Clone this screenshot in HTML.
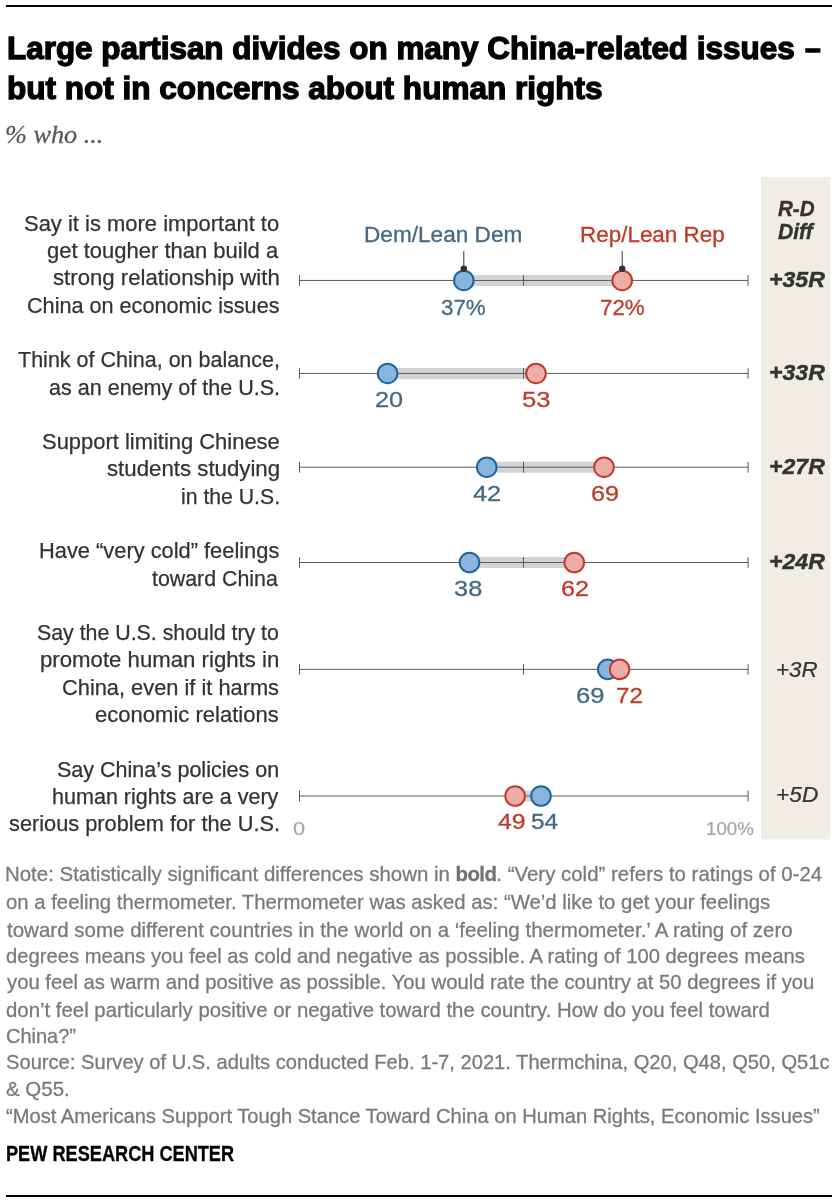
<!DOCTYPE html>
<html lang="en">
<head>
<meta charset="utf-8">
<title>Large partisan divides on many China-related issues</title>
<style>
html,body{margin:0;padding:0;background:#fff;}
body{width:840px;height:1204px;position:relative;overflow:hidden;font-family:"Liberation Sans",sans-serif;}
.t{position:absolute;white-space:nowrap;line-height:40px;height:40px;transform-origin:0 0;margin:0;padding:0;}
#txt{position:absolute;left:0;top:0;width:840px;height:1204px;will-change:transform;}
.rule{position:absolute;background:#000;}
svg{position:absolute;left:0;top:0;}
</style>
</head>
<body>
<div class="rule" style="left:6px;top:5px;width:826px;height:2px"></div>
<div class="rule" style="left:6px;top:1195px;width:826px;height:2px"></div>
<svg width="840" height="1204" viewBox="0 0 840 1204">
<rect x="761" y="177" width="69" height="662.5" fill="#efede6"/>
<rect x="463.80" y="274.95" width="158.40" height="11" fill="#d1d3d4"/>
<line x1="299.5" y1="280.45" x2="748.1" y2="280.45" stroke="#5a5a5a" stroke-width="1"/>
<line x1="299.5" y1="275.05" x2="299.5" y2="285.85" stroke="#5a5a5a" stroke-width="1"/>
<line x1="523.5" y1="275.05" x2="523.5" y2="285.85" stroke="#5a5a5a" stroke-width="1"/>
<line x1="748.1" y1="275.05" x2="748.1" y2="285.85" stroke="#5a5a5a" stroke-width="1"/>
<circle cx="463.8" cy="280.45" r="9.8" fill="#8ab4e0" stroke="#1f659b" stroke-width="2"/><circle cx="622.2" cy="280.45" r="9.8" fill="#edaca5" stroke="#bf3c2b" stroke-width="2"/>
<rect x="387.60" y="367.95" width="148.40" height="11" fill="#d1d3d4"/>
<line x1="299.5" y1="373.45" x2="748.1" y2="373.45" stroke="#5a5a5a" stroke-width="1"/>
<line x1="299.5" y1="368.05" x2="299.5" y2="378.85" stroke="#5a5a5a" stroke-width="1"/>
<line x1="523.5" y1="368.05" x2="523.5" y2="378.85" stroke="#5a5a5a" stroke-width="1"/>
<line x1="748.1" y1="368.05" x2="748.1" y2="378.85" stroke="#5a5a5a" stroke-width="1"/>
<circle cx="387.6" cy="373.45" r="9.8" fill="#8ab4e0" stroke="#1f659b" stroke-width="2"/><circle cx="536.0" cy="373.45" r="9.8" fill="#edaca5" stroke="#bf3c2b" stroke-width="2"/>
<rect x="486.75" y="461.70" width="117.25" height="11" fill="#d1d3d4"/>
<line x1="299.5" y1="467.2" x2="748.1" y2="467.2" stroke="#5a5a5a" stroke-width="1"/>
<line x1="299.5" y1="461.80" x2="299.5" y2="472.60" stroke="#5a5a5a" stroke-width="1"/>
<line x1="523.5" y1="461.80" x2="523.5" y2="472.60" stroke="#5a5a5a" stroke-width="1"/>
<line x1="748.1" y1="461.80" x2="748.1" y2="472.60" stroke="#5a5a5a" stroke-width="1"/>
<circle cx="486.75" cy="467.2" r="9.8" fill="#8ab4e0" stroke="#1f659b" stroke-width="2"/><circle cx="604.0" cy="467.2" r="9.8" fill="#edaca5" stroke="#bf3c2b" stroke-width="2"/>
<rect x="469.50" y="557.00" width="104.75" height="11" fill="#d1d3d4"/>
<line x1="299.5" y1="562.5" x2="748.1" y2="562.5" stroke="#5a5a5a" stroke-width="1"/>
<line x1="299.5" y1="557.10" x2="299.5" y2="567.90" stroke="#5a5a5a" stroke-width="1"/>
<line x1="523.5" y1="557.10" x2="523.5" y2="567.90" stroke="#5a5a5a" stroke-width="1"/>
<line x1="748.1" y1="557.10" x2="748.1" y2="567.90" stroke="#5a5a5a" stroke-width="1"/>
<circle cx="469.5" cy="562.5" r="9.8" fill="#8ab4e0" stroke="#1f659b" stroke-width="2"/><circle cx="574.25" cy="562.5" r="9.8" fill="#edaca5" stroke="#bf3c2b" stroke-width="2"/>
<rect x="607.70" y="663.85" width="11.90" height="11" fill="#d1d3d4"/>
<line x1="299.5" y1="669.35" x2="748.1" y2="669.35" stroke="#5a5a5a" stroke-width="1"/>
<line x1="299.5" y1="663.95" x2="299.5" y2="674.75" stroke="#5a5a5a" stroke-width="1"/>
<line x1="523.5" y1="663.95" x2="523.5" y2="674.75" stroke="#5a5a5a" stroke-width="1"/>
<line x1="748.1" y1="663.95" x2="748.1" y2="674.75" stroke="#5a5a5a" stroke-width="1"/>
<circle cx="607.7" cy="669.35" r="9.8" fill="#8ab4e0" stroke="#1f659b" stroke-width="2"/><circle cx="619.6" cy="669.35" r="9.8" fill="#edaca5" stroke="#bf3c2b" stroke-width="2"/>
<rect x="515.10" y="790.50" width="25.90" height="11" fill="#d1d3d4"/>
<line x1="299.5" y1="796.0" x2="748.1" y2="796.0" stroke="#5a5a5a" stroke-width="1"/>
<line x1="299.5" y1="790.60" x2="299.5" y2="801.40" stroke="#5a5a5a" stroke-width="1"/>
<line x1="523.5" y1="790.60" x2="523.5" y2="801.40" stroke="#5a5a5a" stroke-width="1"/>
<line x1="748.1" y1="790.60" x2="748.1" y2="801.40" stroke="#5a5a5a" stroke-width="1"/>
<circle cx="515.1" cy="796.0" r="9.8" fill="#edaca5" stroke="#bf3c2b" stroke-width="2"/><circle cx="541.0" cy="796.0" r="9.8" fill="#8ab4e0" stroke="#1f659b" stroke-width="2"/>
<line x1="463.8" y1="251.2" x2="463.8" y2="268" stroke="#333" stroke-width="1"/>
<circle cx="463.8" cy="268.7" r="3.2" fill="#333"/>
<line x1="622.2" y1="251.2" x2="622.2" y2="268" stroke="#333" stroke-width="1"/>
<circle cx="622.2" cy="268.7" r="3.2" fill="#333"/>
</svg>
<div id="txt">
<div class="t" style="left:6.99px;top:28.75px;color:#000;font-family:'Liberation Sans', sans-serif;font-weight:bold;font-style:normal;font-size:31px;-webkit-text-stroke:1.3px;transform:scaleX(1.0137)">Large partisan divides on many China-related issues</div>
<div class="t" style="left:805.20px;top:28.75px;color:#000;font-family:'Liberation Sans', sans-serif;font-weight:bold;font-style:normal;font-size:31px;-webkit-text-stroke:1.3px;transform:scaleX(0.9118)">–</div>
<div class="t" style="left:6.98px;top:68.75px;color:#000;font-family:'Liberation Sans', sans-serif;font-weight:bold;font-style:normal;font-size:31px;-webkit-text-stroke:1.3px;transform:scaleX(1.0171)">but not in concerns about human rights</div>
<div class="t" style="left:5.29px;top:114.70px;color:#595959;font-family:'Liberation Serif', serif;font-weight:normal;font-style:italic;font-size:26px;-webkit-text-stroke:0.3px;transform:scaleX(1.0096)">% who ...</div>
<div class="t" style="left:23.98px;top:203.50px;color:#333;font-family:'Liberation Sans', sans-serif;font-weight:normal;font-style:normal;font-size:21.5px;-webkit-text-stroke:0.25px;transform:scaleX(1.0218)">Say it is more important to</div>
<div class="t" style="left:47.18px;top:230.80px;color:#333;font-family:'Liberation Sans', sans-serif;font-weight:normal;font-style:normal;font-size:21.5px;-webkit-text-stroke:0.25px;transform:scaleX(1.0231)">get tougher than build a</div>
<div class="t" style="left:52.57px;top:258.10px;color:#333;font-family:'Liberation Sans', sans-serif;font-weight:normal;font-style:normal;font-size:21.5px;-webkit-text-stroke:0.25px;transform:scaleX(1.0312)">strong relationship with</div>
<div class="t" style="left:26.89px;top:286.20px;color:#333;font-family:'Liberation Sans', sans-serif;font-weight:normal;font-style:normal;font-size:21.5px;-webkit-text-stroke:0.25px;transform:scaleX(1.0060)">China on economic issues</div>
<div class="t" style="left:18.30px;top:339.80px;color:#333;font-family:'Liberation Sans', sans-serif;font-weight:normal;font-style:normal;font-size:21.5px;-webkit-text-stroke:0.25px;transform:scaleX(1.0004)">Think of China, on balance,</div>
<div class="t" style="left:49.00px;top:368.20px;color:#333;font-family:'Liberation Sans', sans-serif;font-weight:normal;font-style:normal;font-size:21.5px;-webkit-text-stroke:0.25px;transform:scaleX(1.0018)">as an enemy of the U.S.</div>
<div class="t" style="left:41.68px;top:422.30px;color:#333;font-family:'Liberation Sans', sans-serif;font-weight:normal;font-style:normal;font-size:21.5px;-webkit-text-stroke:0.25px;transform:scaleX(1.0203)">Support limiting Chinese</div>
<div class="t" style="left:106.67px;top:448.50px;color:#333;font-family:'Liberation Sans', sans-serif;font-weight:normal;font-style:normal;font-size:21.5px;-webkit-text-stroke:0.25px;transform:scaleX(1.0345)">students studying</div>
<div class="t" style="left:180.71px;top:477.00px;color:#333;font-family:'Liberation Sans', sans-serif;font-weight:normal;font-style:normal;font-size:21.5px;-webkit-text-stroke:0.25px;transform:scaleX(0.9867)">in the U.S.</div>
<div class="t" style="left:38.67px;top:530.50px;color:#333;font-family:'Liberation Sans', sans-serif;font-weight:normal;font-style:normal;font-size:21.5px;-webkit-text-stroke:0.25px;transform:scaleX(1.0158)">Have “very cold” feelings</div>
<div class="t" style="left:152.30px;top:558.50px;color:#333;font-family:'Liberation Sans', sans-serif;font-weight:normal;font-style:normal;font-size:21.5px;-webkit-text-stroke:0.25px;transform:scaleX(0.9929)">toward China</div>
<div class="t" style="left:37.31px;top:612.80px;color:#333;font-family:'Liberation Sans', sans-serif;font-weight:normal;font-style:normal;font-size:21.5px;-webkit-text-stroke:0.25px;transform:scaleX(0.9921)">Say the U.S. should try to</div>
<div class="t" style="left:39.97px;top:640.10px;color:#333;font-family:'Liberation Sans', sans-serif;font-weight:normal;font-style:normal;font-size:21.5px;-webkit-text-stroke:0.25px;transform:scaleX(1.0322)">promote human rights in</div>
<div class="t" style="left:62.29px;top:668.40px;color:#333;font-family:'Liberation Sans', sans-serif;font-weight:normal;font-style:normal;font-size:21.5px;-webkit-text-stroke:0.25px;transform:scaleX(1.0146)">China, even if it harms</div>
<div class="t" style="left:94.98px;top:694.70px;color:#333;font-family:'Liberation Sans', sans-serif;font-weight:normal;font-style:normal;font-size:21.5px;-webkit-text-stroke:0.25px;transform:scaleX(1.0247)">economic relations</div>
<div class="t" style="left:57.20px;top:749.50px;color:#333;font-family:'Liberation Sans', sans-serif;font-weight:normal;font-style:normal;font-size:21.5px;-webkit-text-stroke:0.25px;transform:scaleX(1.0009)">Say China’s policies on</div>
<div class="t" style="left:51.90px;top:776.80px;color:#333;font-family:'Liberation Sans', sans-serif;font-weight:normal;font-style:normal;font-size:21.5px;-webkit-text-stroke:0.25px;transform:scaleX(1.0022)">human rights are a very</div>
<div class="t" style="left:8.99px;top:804.10px;color:#333;font-family:'Liberation Sans', sans-serif;font-weight:normal;font-style:normal;font-size:21.5px;-webkit-text-stroke:0.25px;transform:scaleX(1.0128)">serious problem for the U.S.</div>
<div class="t" style="left:363.54px;top:214.70px;color:#436983;font-family:'Liberation Sans', sans-serif;font-weight:normal;font-style:normal;font-size:22px;-webkit-text-stroke:0.3px;transform:scaleX(1.0278)">Dem/Lean Dem</div>
<div class="t" style="left:580.16px;top:214.70px;color:#bf3b27;font-family:'Liberation Sans', sans-serif;font-weight:normal;font-style:normal;font-size:22px;-webkit-text-stroke:0.3px;transform:scaleX(1.0201)">Rep/Lean Rep</div>
<div class="t" style="left:440.92px;top:286.50px;color:#436983;font-family:'Liberation Sans', sans-serif;font-weight:normal;font-style:normal;font-size:22.7px;-webkit-text-stroke:0.3px;transform:scaleX(0.9841)">37%</div>
<div class="t" style="left:599.52px;top:286.50px;color:#bf3b27;font-family:'Liberation Sans', sans-serif;font-weight:normal;font-style:normal;font-size:22.7px;-webkit-text-stroke:0.3px;transform:scaleX(0.9841)">72%</div>
<div class="t" style="left:375.09px;top:379.10px;color:#436983;font-family:'Liberation Sans', sans-serif;font-weight:normal;font-style:normal;font-size:22.7px;-webkit-text-stroke:0.3px;transform:scaleX(1.1125)">20</div>
<div class="t" style="left:522.37px;top:379.10px;color:#bf3b27;font-family:'Liberation Sans', sans-serif;font-weight:normal;font-style:normal;font-size:22.7px;-webkit-text-stroke:0.3px;transform:scaleX(1.1304)">53</div>
<div class="t" style="left:472.50px;top:472.50px;color:#436983;font-family:'Liberation Sans', sans-serif;font-weight:normal;font-style:normal;font-size:22.7px;-webkit-text-stroke:0.3px;transform:scaleX(1.1146)">42</div>
<div class="t" style="left:591.39px;top:472.50px;color:#bf3b27;font-family:'Liberation Sans', sans-serif;font-weight:normal;font-style:normal;font-size:22.7px;-webkit-text-stroke:0.3px;transform:scaleX(1.1087)">69</div>
<div class="t" style="left:453.88px;top:567.50px;color:#436983;font-family:'Liberation Sans', sans-serif;font-weight:normal;font-style:normal;font-size:22.7px;-webkit-text-stroke:0.3px;transform:scaleX(1.1196)">38</div>
<div class="t" style="left:561.39px;top:567.50px;color:#bf3b27;font-family:'Liberation Sans', sans-serif;font-weight:normal;font-style:normal;font-size:22.7px;-webkit-text-stroke:0.3px;transform:scaleX(1.1087)">62</div>
<div class="t" style="left:575.87px;top:674.50px;color:#436983;font-family:'Liberation Sans', sans-serif;font-weight:normal;font-style:normal;font-size:22.7px;-webkit-text-stroke:0.3px;transform:scaleX(1.1304)">69</div>
<div class="t" style="left:616.43px;top:674.50px;color:#bf3b27;font-family:'Liberation Sans', sans-serif;font-weight:normal;font-style:normal;font-size:22.7px;-webkit-text-stroke:0.3px;transform:scaleX(1.0652)">72</div>
<div class="t" style="left:498.00px;top:801.00px;color:#bf3b27;font-family:'Liberation Sans', sans-serif;font-weight:normal;font-style:normal;font-size:22.7px;-webkit-text-stroke:0.3px;transform:scaleX(1.0917)">49</div>
<div class="t" style="left:531.42px;top:801.00px;color:#436983;font-family:'Liberation Sans', sans-serif;font-weight:normal;font-style:normal;font-size:22.7px;-webkit-text-stroke:0.3px;transform:scaleX(1.0750)">54</div>
<div class="t" style="left:292.82px;top:808.60px;color:#a6a6a6;font-family:'Liberation Sans', sans-serif;font-weight:normal;font-style:normal;font-size:18.5px;-webkit-text-stroke:0.2px;transform:scaleX(1.1778)">0</div>
<div class="t" style="left:705.79px;top:808.60px;color:#a6a6a6;font-family:'Liberation Sans', sans-serif;font-weight:normal;font-style:normal;font-size:18.5px;-webkit-text-stroke:0.2px;transform:scaleX(1.0109)">100%</div>
<div class="t" style="left:777.90px;top:187.80px;color:#333;font-family:'Liberation Sans', sans-serif;font-weight:bold;font-style:italic;font-size:22.8px;-webkit-text-stroke:0.4px;transform:scaleX(0.9025)">R-D</div>
<div class="t" style="left:778.00px;top:210.80px;color:#333;font-family:'Liberation Sans', sans-serif;font-weight:bold;font-style:italic;font-size:22.8px;-webkit-text-stroke:0.4px;transform:scaleX(0.9250)">Diff</div>
<div class="t" style="left:768.93px;top:259.60px;color:#333;font-family:'Liberation Sans', sans-serif;font-weight:bold;font-style:italic;font-size:21.5px;-webkit-text-stroke:0.4px;transform:scaleX(1.0745)">+35R</div>
<div class="t" style="left:768.63px;top:353.40px;color:#333;font-family:'Liberation Sans', sans-serif;font-weight:bold;font-style:italic;font-size:21.5px;-webkit-text-stroke:0.4px;transform:scaleX(1.0745)">+33R</div>
<div class="t" style="left:768.63px;top:447.30px;color:#333;font-family:'Liberation Sans', sans-serif;font-weight:bold;font-style:italic;font-size:21.5px;-webkit-text-stroke:0.4px;transform:scaleX(1.0745)">+27R</div>
<div class="t" style="left:768.63px;top:541.60px;color:#333;font-family:'Liberation Sans', sans-serif;font-weight:bold;font-style:italic;font-size:21.5px;-webkit-text-stroke:0.4px;transform:scaleX(1.0745)">+24R</div>
<div class="t" style="left:776.46px;top:650.10px;color:#333;font-family:'Liberation Sans', sans-serif;font-weight:normal;font-style:italic;font-size:21.5px;-webkit-text-stroke:0.2px;transform:scaleX(1.0385)">+3R</div>
<div class="t" style="left:775.94px;top:774.70px;color:#333;font-family:'Liberation Sans', sans-serif;font-weight:normal;font-style:italic;font-size:21.5px;-webkit-text-stroke:0.2px;transform:scaleX(1.0564)">+5D</div>
<div class="t" style="left:5.15px;top:854.00px;color:#7a7a7a;font-family:'Liberation Sans', sans-serif;font-weight:normal;font-style:normal;font-size:21px;-webkit-text-stroke:0.3px;transform:scaleX(0.9730)">Note: Statistically significant differences shown in <b style="color:#727272;letter-spacing:-0.6px">bold</b>. “Very cold” refers to ratings of 0-24</div>
<div class="t" style="left:6.13px;top:882.00px;color:#7a7a7a;font-family:'Liberation Sans', sans-serif;font-weight:normal;font-style:normal;font-size:21px;-webkit-text-stroke:0.3px;transform:scaleX(0.9681)">on a feeling thermometer. Thermometer was asked as: “We’d like to get your feelings</div>
<div class="t" style="left:7.10px;top:910.00px;color:#7a7a7a;font-family:'Liberation Sans', sans-serif;font-weight:normal;font-style:normal;font-size:21px;-webkit-text-stroke:0.3px;transform:scaleX(0.9769)">toward some different countries in the world on a ‘feeling thermometer.’ A rating of zero</div>
<div class="t" style="left:6.14px;top:936.00px;color:#7a7a7a;font-family:'Liberation Sans', sans-serif;font-weight:normal;font-style:normal;font-size:21px;-webkit-text-stroke:0.3px;transform:scaleX(0.9625)">degrees means you feel as cold and negative as possible. A rating of 100 degrees means</div>
<div class="t" style="left:7.10px;top:962.00px;color:#7a7a7a;font-family:'Liberation Sans', sans-serif;font-weight:normal;font-style:normal;font-size:21px;-webkit-text-stroke:0.3px;transform:scaleX(0.9646)">you feel as warm and positive as possible. You would rate the country at 50 degrees if you</div>
<div class="t" style="left:6.13px;top:990.00px;color:#7a7a7a;font-family:'Liberation Sans', sans-serif;font-weight:normal;font-style:normal;font-size:21px;-webkit-text-stroke:0.3px;transform:scaleX(0.9699)">don’t feel particularly positive or negative toward the country. How do you feel toward</div>
<div class="t" style="left:6.15px;top:1016.00px;color:#7a7a7a;font-family:'Liberation Sans', sans-serif;font-weight:normal;font-style:normal;font-size:21px;-webkit-text-stroke:0.3px;transform:scaleX(0.9514)">China?”</div>
<div class="t" style="left:6.14px;top:1042.00px;color:#7a7a7a;font-family:'Liberation Sans', sans-serif;font-weight:normal;font-style:normal;font-size:21px;-webkit-text-stroke:0.3px;transform:scaleX(0.9590)">Source: Survey of U.S. adults conducted Feb. 1-7, 2021. Thermchina, Q20, Q48, Q50, Q51c</div>
<div class="t" style="left:6.12px;top:1068.50px;color:#7a7a7a;font-family:'Liberation Sans', sans-serif;font-weight:normal;font-style:normal;font-size:21px;-webkit-text-stroke:0.3px;transform:scaleX(0.9762)">&amp; Q55.</div>
<div class="t" style="left:6.14px;top:1095.50px;color:#7a7a7a;font-family:'Liberation Sans', sans-serif;font-weight:normal;font-style:normal;font-size:21px;-webkit-text-stroke:0.3px;transform:scaleX(0.9586)">“Most Americans Support Tough Stance Toward China on Human Rights, Economic Issues”</div>
<div class="t" style="left:6.19px;top:1133.80px;color:#000;font-family:'Liberation Sans', sans-serif;font-weight:bold;font-style:normal;font-size:22.3px;-webkit-text-stroke:0.3px;transform:scaleX(0.8147)">PEW RESEARCH CENTER</div>
</div>
</body>
</html>
